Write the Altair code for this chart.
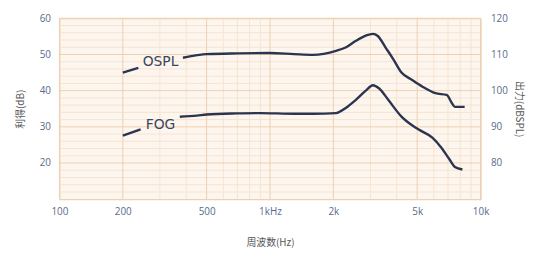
import altair as alt
import pandas as pd

# OSPL curve (dBSPL, right axis)
ospl_freq_a = [200, 237]
ospl_val_a = [105.0, 106.3]
ospl_freq_b = [386, 450, 500, 700, 1000, 1300, 1600, 2060, 2300, 2550, 2850, 3080, 3250, 3540, 3840, 4200, 4750, 5300, 6100, 6900, 7300, 7550, 8400]
ospl_val_b = [109.1, 109.8, 110.1, 110.3, 110.4, 110.1, 109.9, 111.0, 112.0, 113.7, 115.2, 115.7, 115.1, 111.9, 108.8, 105.1, 102.9, 101.1, 99.3, 98.8, 96.6, 95.5, 95.5]

# FOG curve (dB, left axis)
fog_freq_a = [200, 243]
fog_val_a = [27.6, 29.3]
fog_freq_b = [373, 450, 500, 700, 900, 1300, 1600, 2060, 2300, 2550, 2850, 3080, 3300, 3650, 4200, 5060, 5900, 6500, 7100, 7550, 8200]
fog_val_b = [32.8, 33.1, 33.4, 33.7, 33.8, 33.6, 33.6, 33.8, 35.3, 37.4, 40.0, 41.5, 40.6, 37.4, 32.9, 29.3, 27.0, 24.3, 21.1, 18.9, 18.2]

x_ticks = [100, 200, 500, 1000, 2000, 5000, 10000]
x_tick_labels = ["100", "200", "500", "1kHz", "2k", "5k", "10k"]
x_minor = [300, 400, 600, 700, 800, 900, 3000, 4000, 6000, 7000, 8000, 9000]
y_left_ticks = [20, 30, 40, 50, 60]
y_minor = [12, 14, 16, 18, 22, 24, 26, 28, 32, 34, 36, 38, 42, 44, 46, 48, 52, 54, 56, 58]
y_right_ticks = [80, 90, 100, 110, 120]

labels = ["OSPL", "FOG"]
label_freq = [302, 302]
label_val = [48.0, 30.6]

line_color = "#2b3550"
grid_major = "#efcfb0"
grid_minor = "#f7e3d0"
label_color = "#5a6a8c"
title_color = "#555555"

ospl = pd.DataFrame({
    "f": ospl_freq_a + ospl_freq_b,
    "v": ospl_val_a + ospl_val_b,
    "seg": ["a"] * len(ospl_freq_a) + ["b"] * len(ospl_freq_b),
})
fog = pd.DataFrame({
    "f": fog_freq_a + fog_freq_b,
    "v": fog_val_a + fog_val_b,
    "seg": ["a"] * len(fog_freq_a) + ["b"] * len(fog_freq_b),
})

label_map = "{" + ",".join(f"'{v}':'{t}'" for v, t in zip(x_ticks, x_tick_labels)) + "}"

xscale = alt.Scale(type="log", domain=[100, 10000], nice=False)
yl = alt.Scale(domain=[10, 60], nice=False, zero=False)
yr = alt.Scale(domain=[70, 120], nice=False, zero=False)

xaxis = alt.Axis(
    values=x_ticks,
    labelExpr=label_map + "[datum.value + '']",
    title="周波数(Hz)", grid=False, ticks=False, domain=False, labelFlush=False,
    labelColor=label_color, labelFont="Open Sans", labelFontSize=10, labelPadding=7,
    titleFont="Noto Sans CJK SC", titleFontSize=10, titleColor=title_color,
    titleFontWeight="normal", titlePadding=22,
)

vminor = alt.Chart(pd.DataFrame({"f": x_minor})).mark_rule(color=grid_minor, strokeWidth=1).encode(
    x=alt.X("f:Q", scale=xscale, axis=xaxis))
hminor = alt.Chart(pd.DataFrame({"v": y_minor})).mark_rule(color=grid_minor, strokeWidth=1).encode(
    y=alt.Y("v:Q", scale=yl))
vmajor = alt.Chart(pd.DataFrame({"f": x_ticks})).mark_rule(color=grid_major, strokeWidth=1).encode(
    x=alt.X("f:Q", scale=xscale))
hmajor = alt.Chart(pd.DataFrame({"v": y_left_ticks})).mark_rule(color=grid_major, strokeWidth=1).encode(
    y=alt.Y("v:Q", scale=yl))

fog_line = alt.Chart(fog).mark_line(color=line_color, strokeWidth=2.4, interpolate="monotone").encode(
    x=alt.X("f:Q", scale=xscale),
    y=alt.Y("v:Q", scale=yl, axis=alt.Axis(
        values=y_left_ticks, title="利得(dB)", grid=False, ticks=False, domain=False,
        labelColor=label_color, labelFont="Open Sans", labelFontSize=10, labelPadding=9,
        titleFont="Noto Sans CJK SC", titleFontSize=10, titleColor=title_color,
        titleFontWeight="normal", titlePadding=14)),
    detail="seg:N",
)

texts = alt.Chart(pd.DataFrame({"t": labels, "f": label_freq, "v": label_val})).mark_text(
    font="DejaVu Sans", fontSize=14, color="#3a4560", align="center", baseline="middle"
).encode(x=alt.X("f:Q", scale=xscale), y=alt.Y("v:Q", scale=yl), text="t:N")

left = alt.layer(vminor, hminor, vmajor, hmajor, fog_line, texts)

ospl_line = alt.Chart(ospl).mark_line(color=line_color, strokeWidth=2.4, interpolate="monotone").encode(
    x=alt.X("f:Q", scale=xscale),
    y=alt.Y("v:Q", scale=yr, axis=alt.Axis(
        orient="right", values=y_right_ticks, title="出力(dBSPL)", grid=False, ticks=False, domain=False,
        labelColor=label_color, labelFont="Open Sans", labelFontSize=10, labelPadding=10,
        titleFont="Noto Sans CJK SC", titleFontSize=10, titleColor=title_color,
        titleFontWeight="normal", titlePadding=6)),
    detail="seg:N",
)

chart = alt.layer(left, ospl_line).resolve_scale(y="independent").properties(
    width=426, height=183,
    autosize=alt.AutoSizeParams(type="none"),
    padding={"left": 52, "top": 9, "right": 51, "bottom": 50},
    background="white",
).configure_view(fill="#fdf6ee", stroke="#e6c8a8", strokeWidth=1)

chart.save("out.html", embed_options={"renderer": "svg", "actions": False})
